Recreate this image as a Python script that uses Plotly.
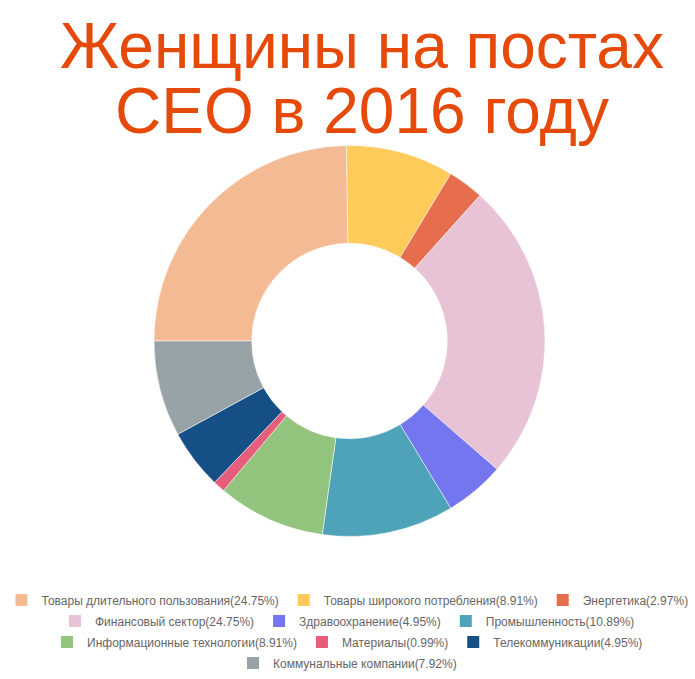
import plotly.graph_objects as go

W, H = 695, 679

sectors = [
    "Товары длительного пользования",
    "Товары широкого потребления",
    "Энергетика",
    "Финансовый сектор",
    "Здравоохранение",
    "Промышленность",
    "Информационные технологии",
    "Материалы",
    "Телекоммуникации",
    "Коммунальные компании",
]
counts = [25, 9, 3, 25, 5, 11, 9, 1, 5, 8]
colors = ["#F4BA94", "#FFCB5A", "#E66D4D", "#E8C3D6", "#7476EF",
          "#4FA3B8", "#93C47D", "#E75D7C", "#154F85", "#97A3A7"]
title_lines = ["Женщины на постах", "CEO в 2016 году"]

# which legend row each sector's entry goes in (reference wraps in 4 centred rows)
legend_rows = [1, 1, 1, 2, 2, 2, 3, 3, 3, 4]
row_centers = [600, 621, 642, 663]

total = sum(counts)
labels = [f"{s}({c / total * 100:.2f}%)" for s, c in zip(sectors, counts)]

cx, cy, r = 349.5, 341, 195.5

fig = go.Figure()
fig.add_trace(go.Pie(
    labels=labels,
    values=counts,
    hole=0.5,
    sort=False,
    direction="clockwise",
    rotation=270,
    marker=dict(colors=colors, line=dict(color="white", width=0.5)),
    textinfo="none",
    showlegend=False,
    domain=dict(x=[(cx - r) / W, (cx + r) / W], y=[1 - (cy + r) / H, 1 - (cy - r) / H]),
))

legend_font = dict(family="Liberation Sans, Arial", size=12, color="#666666")
for lab, col, row in zip(labels, colors, legend_rows):
    lname = "legend" if row == 1 else f"legend{row}"
    fig.add_trace(go.Scatter(
        x=[None], y=[None], mode="markers", name=lab,
        marker=dict(symbol="square", size=12, color=col),
        legend=lname, hoverinfo="skip",
    ))

legends = {}
for row, yc in enumerate(row_centers, start=1):
    lname = "legend" if row == 1 else f"legend{row}"
    legends[lname] = dict(
        orientation="h", x=0.5, xanchor="center", y=1 - yc / H, yanchor="middle",
        font=legend_font, itemwidth=30, bgcolor="rgba(0,0,0,0)",
    )

title_color = "#E64A0B"
for line, base in zip(title_lines, [70, 135]):
    fig.add_annotation(
        text=line, x=362 / W, y=1 - base / H, xref="paper", yref="paper",
        xanchor="center", yanchor="bottom", showarrow=False,
        font=dict(family="Liberation Sans, Arial", size=64, color=title_color),
        yshift=-14,
    )

fig.update_layout(
    width=W, height=H,
    margin=dict(l=0, r=0, t=0, b=0),
    paper_bgcolor="white",
    plot_bgcolor="white",
    showlegend=True,
    xaxis=dict(visible=False),
    yaxis=dict(visible=False),
    **legends,
)

fig.write_html("out.html", config={"displayModeBar": False},
               post_script="document.body.style.margin='0';")
